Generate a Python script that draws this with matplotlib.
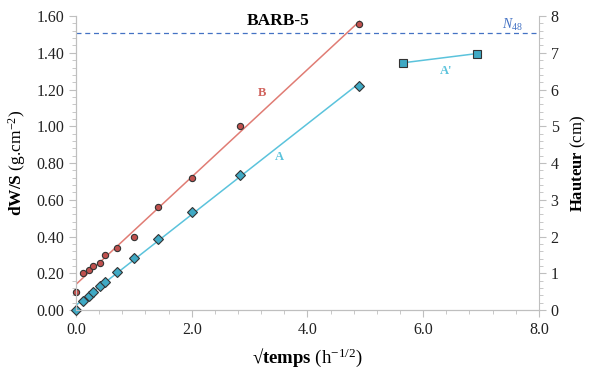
import numpy as np
import matplotlib.pyplot as plt
from matplotlib.ticker import MultipleLocator, FormatStrFormatter

plt.rcParams['font.family'] = ['Liberation Serif', 'DejaVu Serif']
plt.rcParams['mathtext.fontset'] = 'custom'
plt.rcParams['mathtext.rm'] = 'Liberation Serif'
plt.rcParams['mathtext.it'] = 'Liberation Serif:italic'
plt.rcParams['mathtext.bf'] = 'Liberation Serif:bold'

# sqrt(time) in h^-1/2
x_vals = [0.0, 0.129, 0.224, 0.289, 0.408, 0.5, 0.707, 1.0, 1.414, 2.0, 2.828, 4.899]
# mass uptake dW/S (g.cm-2)
a_vals = [0.00, 0.05, 0.078, 0.096, 0.129, 0.152, 0.207, 0.283, 0.386, 0.533, 0.733, 1.219]
b_vals = [0.10, 0.20, 0.218, 0.238, 0.257, 0.298, 0.337, 0.40, 0.559, 0.718, 1.00, 1.558]
# capillary height A' (cm)
x_ap = [5.657, 6.928]
h_ap = [6.73, 6.98]
n48 = 1.51

red_line = '#E07C74'
red_fill = '#C0504D'
blue_line = '#5BC3DC'
blue_fill = '#3FA9C4'
grey = '#BFBFBF'

fig = plt.figure(figsize=(5.89, 3.72), dpi=100)
ax = fig.add_axes([0.129, 0.1667, 0.786, 0.79])
ax2 = ax.twinx()

# regression lines
xs = np.array([0.0, x_vals[-1]])
pb = np.polyfit(x_vals, b_vals, 1)
pa = np.polyfit(x_vals, a_vals, 1)
ax.plot(xs, np.polyval(pb, xs), color=red_line, lw=1.1, zorder=2)
ax.plot(xs, np.polyval(pa, xs), color=blue_line, lw=1.1, zorder=2)

ax.plot(x_vals, b_vals, 'o', ms=4.5, mfc=red_fill, mec='#333333', mew=0.8, zorder=3, clip_on=False)
ax.plot(x_vals, a_vals, 'D', ms=5, mfc=blue_fill, mec='#333333', mew=0.8, zorder=3, clip_on=False)

ax.axhline(n48, color='#4472C4', lw=0.9, ls=(0, (4, 3)), zorder=1)

ax2.plot(x_ap, h_ap, '-s', color=blue_line, lw=1.1, ms=6, mfc=blue_fill, mec='#333333', mew=0.8)

ax.set_xlim(0, 8)
ax.set_ylim(0, 1.6)
ax2.set_ylim(0, 8)

ax.xaxis.set_major_locator(MultipleLocator(2))
ax.xaxis.set_minor_locator(MultipleLocator(0.4))
ax.xaxis.set_major_formatter(FormatStrFormatter('%.1f'))
ax.yaxis.set_major_locator(MultipleLocator(0.2))
ax.yaxis.set_minor_locator(MultipleLocator(0.04))
ax.yaxis.set_major_formatter(FormatStrFormatter('%.2f'))
ax2.yaxis.set_major_locator(MultipleLocator(1))
ax2.yaxis.set_minor_locator(MultipleLocator(0.2))

for a in (ax, ax2):
    a.spines['top'].set_visible(False)
    for s in ('left', 'right', 'bottom'):
        a.spines[s].set_color(grey)
    a.tick_params(which='major', length=5, color=grey, labelsize=11.5, labelcolor='#222222')
    a.tick_params(which='minor', length=3, color=grey)
ax.spines['right'].set_visible(False)

ax.set_xlabel('$\\mathbf{\u221atemps}$ (h$^{-1/2}$)', fontsize=13.5, labelpad=6)
ax.set_ylabel(r'$\mathbf{dW/S}$ (g.cm$^{-2}$)', fontsize=12.5, labelpad=6)
ax2.set_ylabel(r'$\mathbf{Hauteur}$ (cm)', fontsize=12, rotation=90, labelpad=7)

ax.text(3.5, 1.575, 'BARB-5', fontsize=12.5, fontweight='bold', ha='center', va='center')
ax.text(3.21, 1.18, 'B', color='#D0625C', fontsize=9, fontweight='bold', ha='center', va='center')
ax.text(3.52, 0.834, 'A', color=blue_line, fontsize=9, fontweight='bold', ha='center', va='center')
ax.text(6.39, 1.30, "A'", color=blue_line, fontsize=9, fontweight='bold', ha='center', va='center')
ax.text(7.54, 1.55, r'$N_{48}$', color='#4472C4', fontsize=10, ha='center', va='center')

fig.savefig('out.png', dpi=100)
